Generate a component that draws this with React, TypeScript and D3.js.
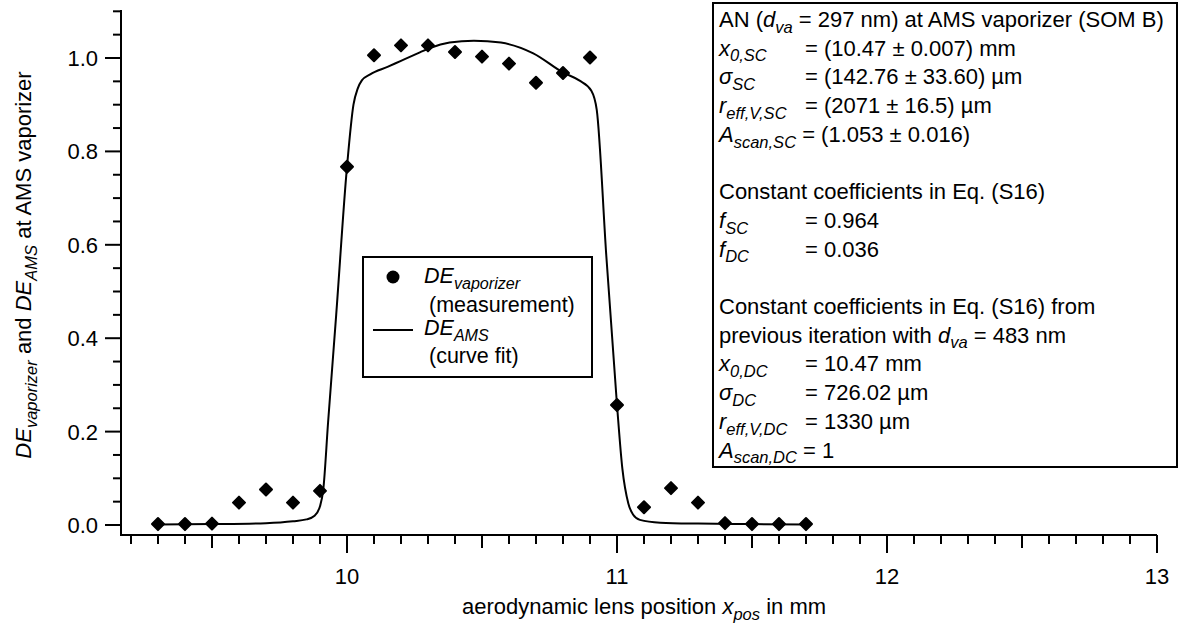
import React from "react";
import * as d3 from "d3";

// Measured deposition efficiency at the vaporizer versus lens position
const scanX = [9.3, 9.4, 9.5, 9.6, 9.7, 9.8, 9.9, 10.0, 10.1, 10.2, 10.3, 10.4, 10.5, 10.6, 10.7, 10.8, 10.9, 11.0, 11.1, 11.2, 11.3, 11.4, 11.5, 11.6, 11.7];
const scanDE = [0.002, 0.002, 0.003, 0.048, 0.076, 0.048, 0.073, 0.767, 1.006, 1.027, 1.027, 1.013, 1.003, 0.988, 0.947, 0.968, 1.001, 0.257, 0.038, 0.079, 0.048, 0.004, 0.002, 0.002, 0.002];

// Fitted DE_AMS curve, sampled along the lens position
const fitX = [9.3, 9.5, 9.7, 9.8, 9.85, 9.88, 9.9, 9.912, 9.93, 9.96, 10.0, 10.024, 10.04, 10.055, 10.086, 10.15, 10.2, 10.27, 10.31, 10.38, 10.47, 10.57, 10.69, 10.8, 10.86, 10.905, 10.925, 10.96, 11.0, 11.02, 11.042, 11.06, 11.085, 11.16, 11.3, 11.5, 11.7];
const fitDE = [0.001, 0.002, 0.004, 0.008, 0.012, 0.02, 0.04, 0.075, 0.22, 0.45, 0.767, 0.9, 0.935, 0.952, 0.965, 0.981, 0.994, 1.012, 1.022, 1.033, 1.037, 1.033, 1.01, 0.969, 0.952, 0.93, 0.889, 0.58, 0.257, 0.12, 0.046, 0.022, 0.011, 0.005, 0.003, 0.002, 0.001];

const xMajorTicks = [10, 11, 12, 13];
const yMajorTicks = [0, 0.2, 0.4, 0.6, 0.8, 1.0];

const W = 1179;
const H = 625;
const FONT = "'Liberation Sans', Arial, sans-serif";
const FS = 22;
const LFS = 21.5;

const left = 121;
const right = 1157;
const top = 10;
const bottom = 535;

const x = d3.scaleLinear().domain([9.163, 13.0]).range([left, right]);
const y = d3.scaleLinear().domain([-0.0214, 1.1028]).range([bottom, top]);

const xMinor = d3.range(92, 131).map((v) => v / 10);
const yMinor = d3.range(0, 23).map((v) => v * 0.05);

type Part = { t: string; sub?: boolean; it?: boolean };

const SUB_SHIFT = 0.26;

const Sub = ({ parts, size }: { parts: Part[]; size: number }) => (
  <>
    {parts.map((p, i) => {
      const prevSub = i > 0 && parts[i - 1].sub;
      const dy = p.sub && !prevSub ? size * SUB_SHIFT : !p.sub && prevSub ? -size * SUB_SHIFT : 0;
      return (
        <tspan
          key={i}
          dy={dy}
          fontSize={p.sub ? size * 0.75 : size}
          fontStyle={p.it ? "italic" : "normal"}
        >
          {p.t}
        </tspan>
      );
    })}
  </>
);

// Rows of the parameter box; a null row is an empty line
const boxRows: ({ label: Part[]; value?: string; inline?: boolean } | null)[] = [
  { label: [{ t: "AN (" }, { t: "d", it: true }, { t: "va", sub: true, it: true }, { t: " = 297 nm) at AMS vaporizer (SOM B)" }] },
  { label: [{ t: "x", it: true }, { t: "0,SC", sub: true, it: true }], value: "= (10.47 ± 0.007) mm" },
  { label: [{ t: "σ", it: true }, { t: "SC", sub: true, it: true }], value: "= (142.76 ± 33.60) µm" },
  { label: [{ t: "r", it: true }, { t: "eff,V,SC", sub: true, it: true }], value: "= (2071 ± 16.5) µm" },
  { label: [{ t: "A", it: true }, { t: "scan,SC", sub: true, it: true }], value: " = (1.053 ± 0.016)", inline: true },
  null,
  { label: [{ t: "Constant coefficients in Eq. (S16)" }] },
  { label: [{ t: "f", it: true }, { t: "SC", sub: true, it: true }], value: "= 0.964" },
  { label: [{ t: "f", it: true }, { t: "DC", sub: true, it: true }], value: "= 0.036" },
  null,
  { label: [{ t: "Constant coefficients in Eq. (S16) from" }] },
  { label: [{ t: "previous iteration with " }, { t: "d", it: true }, { t: "va", sub: true, it: true }, { t: " = 483 nm" }] },
  { label: [{ t: "x", it: true }, { t: "0,DC", sub: true, it: true }], value: "= 10.47 mm" },
  { label: [{ t: "σ", it: true }, { t: "DC", sub: true, it: true }], value: "= 726.02 µm" },
  { label: [{ t: "r", it: true }, { t: "eff,V,DC", sub: true, it: true }], value: "= 1330 µm" },
  { label: [{ t: "A", it: true }, { t: "scan,DC", sub: true, it: true }], value: " = 1", inline: true },
];

export default function App() {
  const line = d3
    .line<number>()
    .x((_, i) => x(fitX[i]))
    .y((d) => y(d))
    .curve(d3.curveMonotoneX);

  const diamond = (cx: number, cy: number, r: number) =>
    `M${cx},${cy - r}L${cx + r},${cy}L${cx},${cy + r}L${cx - r},${cy}Z`;

  return (
    <svg width={W} height={H} style={{ position: "absolute", left: 0, top: 0, background: "#fff" }} fontFamily={FONT}>
      {/* fitted curve */}
      <path d={line(fitDE) ?? ""} fill="none" stroke="#000" strokeWidth={2} />

      {/* measurements */}
      {scanDE.map((v, i) => (
        <path
          key={i}
          d={diamond(x(scanX[i]), y(v), 6)}
          fill="#000"
          stroke="#000"
          strokeWidth={2}
          strokeLinejoin="round"
        />
      ))}

      {/* axes */}
      <line x1={left} x2={left} y1={top} y2={bottom + 1} stroke="#000" strokeWidth={2} />
      <line x1={left - 1} x2={right} y1={bottom} y2={bottom} stroke="#000" strokeWidth={2} />

      {yMinor.map((v, i) => {
        const major = yMajorTicks.some((m) => Math.abs(m - v) < 1e-6);
        return (
          <line key={i} x1={left - (major ? 16 : 8)} x2={left} y1={y(v)} y2={y(v)} stroke="#000" strokeWidth={2} />
        );
      })}
      {yMajorTicks.map((v) => (
        <text key={v} x={98} y={y(v)} dy="0.36em" textAnchor="end" fontSize={FS}>
          {v.toFixed(1)}
        </text>
      ))}

      {xMinor.map((v, i) => {
        const major = xMajorTicks.some((m) => Math.abs(m - v) < 1e-6);
        const mid = Math.abs(v * 2 - Math.round(v * 2)) < 1e-6;
        const len = major ? 18 : mid ? 13 : 9;
        return <line key={i} x1={x(v)} x2={x(v)} y1={bottom} y2={bottom + len} stroke="#000" strokeWidth={2} />;
      })}
      {xMajorTicks.map((v) => (
        <text key={v} x={x(v)} y={576} dy="0.36em" textAnchor="middle" fontSize={FS}>
          {v}
        </text>
      ))}

      {/* axis titles */}
      <text x={644} y={614} textAnchor="middle" fontSize={FS}>
        <Sub parts={[{ t: "aerodynamic lens position " }, { t: "x", it: true }, { t: "pos", sub: true, it: true }, { t: " in mm" }]} size={FS} />
      </text>
      <text transform={`translate(31,265) rotate(-90)`} textAnchor="middle" fontSize={FS}>
        <Sub
          parts={[
            { t: "DE", it: true },
            { t: "vaporizer", sub: true, it: true },
            { t: " and " },
            { t: "DE", it: true },
            { t: "AMS", sub: true, it: true },
            { t: " at AMS vaporizer" },
          ]}
          size={FS}
        />
      </text>

      {/* legend */}
      <rect x={363} y={257} width={229} height={120} fill="#fff" stroke="#000" strokeWidth={2} />
      <circle cx={393} cy={277} r={6.5} fill="#000" />
      <line x1={373} x2={413} y1={330} y2={330} stroke="#000" strokeWidth={2} />
      <text x={424} y={283} fontSize={LFS}>
        <Sub parts={[{ t: "DE", it: true }, { t: "vaporizer", sub: true, it: true }]} size={LFS} />
      </text>
      <text x={429} y={312} fontSize={LFS}>(measurement)</text>
      <text x={424} y={335} fontSize={LFS}>
        <Sub parts={[{ t: "DE", it: true }, { t: "AMS", sub: true, it: true }]} size={LFS} />
      </text>
      <text x={429} y={363} fontSize={LFS}>(curve fit)</text>

      {/* parameter box */}
      <rect x={713} y={3} width={464} height={464} fill="#fff" stroke="#000" strokeWidth={2} />
      {boxRows.map((r, i) =>
        r ? (
          <text key={i} x={719} y={27 + i * 28.7} fontSize={FS}>
            <Sub parts={r.label} size={FS} />
            {r.value && (
              <tspan
                x={r.inline ? undefined : 805}
                dy={r.label[r.label.length - 1].sub ? -FS * SUB_SHIFT : 0}
                fontSize={FS}
                fontStyle="normal"
              >
                {r.value}
              </tspan>
            )}
          </text>
        ) : null
      )}
    </svg>
  );
}
